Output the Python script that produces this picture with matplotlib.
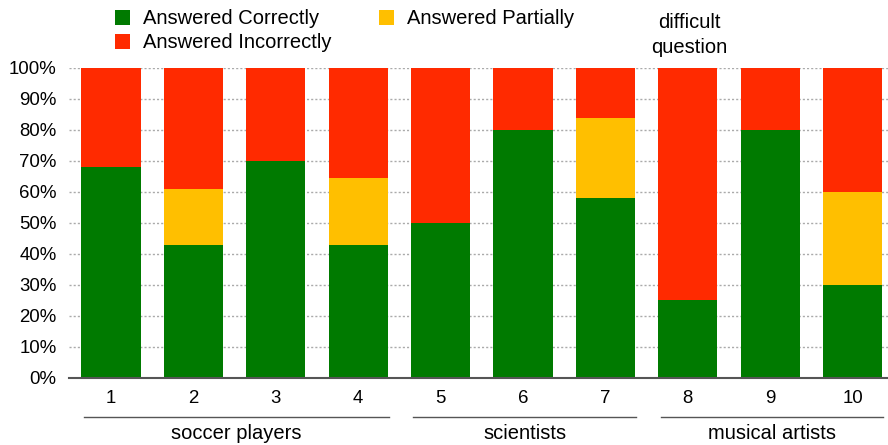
import matplotlib.pyplot as plt
import matplotlib.transforms as mtransforms
import numpy as np

plt.rcParams['font.family'] = ['Liberation Sans', 'DejaVu Sans']

# question results in percent
questions = ["1", "2", "3", "4", "5", "6", "7", "8", "9", "10"]
correct = [68, 43, 70, 43, 50, 80, 58, 25, 80, 30]
partial = [0, 18, 0, 21.5, 0, 0, 26, 0, 0, 30]
incorrect = [32, 39, 30, 35.5, 50, 20, 16, 75, 20, 40]

groups = ["soccer players", "scientists", "musical artists"]
group_spans = [(0, 3), (4, 6), (7, 9)]

green = "#007a00"
yellow = "#ffbf00"
red = "#ff2a00"

fig = plt.figure(figsize=(8.88, 4.45), dpi=100)
ax = fig.add_axes([0.0777, 0.1506, 0.9223, 0.6966])

x = np.arange(len(questions))
w = 0.72
bottom2 = np.array(correct)
bottom3 = bottom2 + np.array(partial)
ax.bar(x, correct, w, color=green, label="Answered Correctly", zorder=2)
ax.bar(x, partial, w, bottom=bottom2, color=yellow, label="Answered Partially", zorder=2)
ax.bar(x, incorrect, w, bottom=bottom3, color=red, label="Answered Incorrectly", zorder=2)

ax.set_xlim(-0.51, 9.43)
ax.set_ylim(0, 100)
ax.set_yticks(range(0, 101, 10))
ax.set_yticklabels([f"{v}%" for v in range(0, 101, 10)], fontsize=13.4)
ax.set_xticks(x)
ax.set_xticklabels(questions, fontsize=13.4)
ax.tick_params(length=0, pad=9, axis="x")
ax.tick_params(length=0, pad=9, axis="y")
ax.set_axisbelow(True)
ax.yaxis.grid(True, linestyle=(0, (1.5, 1.5)), color="#aaaaaa", linewidth=1)
for s in ["left", "right", "top"]:
    ax.spines[s].set_visible(False)
ax.spines["bottom"].set_color("#555555")
ax.spines["bottom"].set_linewidth(1.5)
ax.spines["bottom"].set_zorder(3)

# group brackets under the tick labels
trans = mtransforms.blended_transform_factory(ax.transData, ax.transAxes)
for name, (a, b) in zip(groups, group_spans):
    ax.plot([a - 0.33, b + 0.37], [-0.126, -0.126], color="#555555", lw=1,
            transform=trans, clip_on=False)
    ax.text((a + b) / 2 + 0.02, -0.18, name, transform=trans, ha="center",
            va="center", fontsize=14.5)

ax.text(7.02, 1.105, "difficult\nquestion", transform=trans, ha="center",
        va="center", fontsize=14.5, linespacing=1.4)

handles, labels = ax.get_legend_handles_labels()
order = [0, 2, 1]
fig.legend([handles[i] for i in order], [labels[i] for i in order],
           loc="upper left", bbox_to_anchor=(0.1086, 1.02), ncol=2, frameon=False,
           fontsize=14.5, handlelength=0.75, handleheight=0.75, handletextpad=0.65,
           columnspacing=2.35, labelspacing=0.25)

fig.savefig("out.png", dpi=100)
